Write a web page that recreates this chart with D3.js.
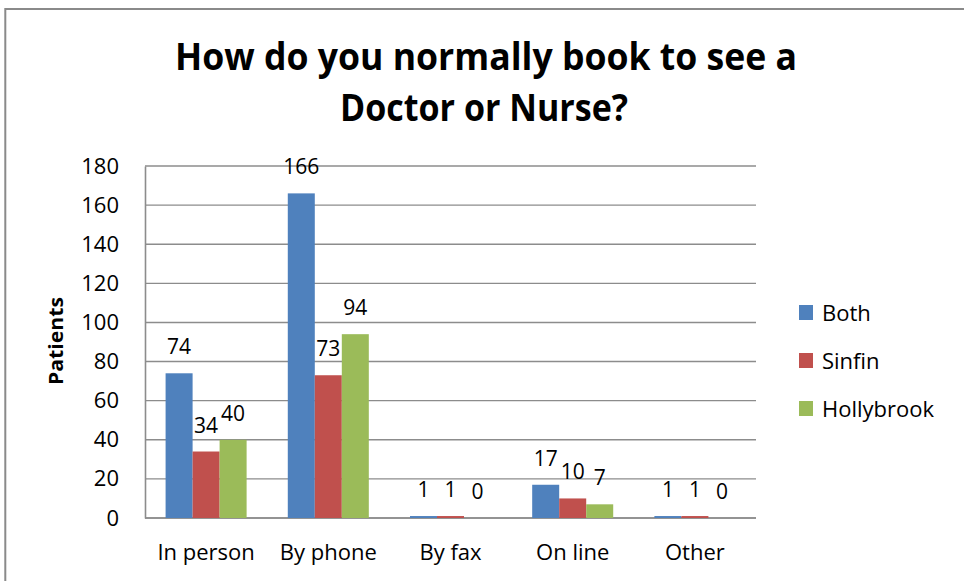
<!DOCTYPE html>
<meta charset="utf-8">
<style>
  body { margin: 0; background: #fff; }
  text { font-family: "Open Sans", sans-serif; fill: #000; }
</style>
<svg width="964" height="581"></svg>

<script src="https://cdn.jsdelivr.net/npm/d3@7"></script>
<script>
var categories = ["In person", "By phone", "By fax", "On line", "Other"]
var seriesNames = ["Both", "Sinfin", "Hollybrook"]
var both = [74, 166, 1, 17, 1]
var sinfin = [34, 73, 1, 10, 1]
var hollybrook = [40, 94, 0, 7, 0]
var yTicks = [0, 20, 40, 60, 80, 100, 120, 140, 160, 180]
var colors = ["#4F81BD", "#C0504D", "#9BBB59"]

var values = [both, sinfin, hollybrook]

var svg = d3.select("svg")

// chart frame
svg.append("rect")
  .attr("x", 5.3).attr("y", 9)
  .attr("width", 1000).attr("height", 1000)
  .attr("fill", "none")
  .attr("stroke", "#8a8a8a")
  .attr("stroke-width", 2)

var plotLeft = 145, plotRight = 756, plotTop = 166, plotBottom = 518

var x0 = d3.scaleBand()
  .domain(categories)
  .range([plotLeft, plotRight])
  .paddingInner(0.337)
  .paddingOuter(0.1685)

var x1 = d3.scaleBand()
  .domain(seriesNames)
  .range([0, x0.bandwidth()])

var y = d3.scaleLinear()
  .domain([0, 180])
  .range([plotBottom, plotTop])

// title
var title = svg.append("g").attr("font-weight", "bold").attr("font-size", 38)
title.append("text")
  .attr("x", 486).attr("y", 70)
  .attr("text-anchor", "middle")
  .attr("textLength", 622).attr("lengthAdjust", "spacingAndGlyphs")
  .text("How do you normally book to see a")
title.append("text")
  .attr("x", 484).attr("y", 121)
  .attr("text-anchor", "middle")
  .attr("textLength", 288).attr("lengthAdjust", "spacingAndGlyphs")
  .text("Doctor or Nurse?")

// gridlines
svg.append("g")
  .selectAll("line")
  .data(yTicks)
  .enter().append("line")
    .attr("x1", plotLeft).attr("x2", plotRight)
    .attr("y1", function (d) { return y(d) })
    .attr("y2", function (d) { return y(d) })
    .attr("stroke", "#8c8c8c")
    .attr("stroke-width", 1.4)

// y axis
var yAxis = svg.append("g")
  .attr("transform", "translate(" + plotLeft + ",0)")
  .call(d3.axisLeft(y).tickValues(yTicks).tickSize(0).tickPadding(26))
yAxis.select(".domain").attr("stroke", "#8c8c8c").attr("stroke-width", 1.6)
yAxis.selectAll("text")
  .attr("font-size", 22)
  .attr("font-family", "Open Sans")
  .attr("fill", "#000")

// x axis
var xAxis = svg.append("g")
  .attr("transform", "translate(0," + plotBottom + ")")
  .call(d3.axisBottom(x0).tickSize(0).tickPadding(0))
xAxis.select(".domain").remove()
xAxis.selectAll("text")
  .attr("font-size", 22)
  .attr("font-family", "Open Sans")
  .attr("fill", "#000")
  .attr("dy", null)
  .attr("y", 42)
svg.append("line")
  .attr("x1", plotLeft).attr("x2", plotRight)
  .attr("y1", plotBottom).attr("y2", plotBottom)
  .attr("stroke", "#8c8c8c")
  .attr("stroke-width", 1.6)

// bars
var barData = []
categories.forEach(function (c, i) {
  seriesNames.forEach(function (s, j) {
    barData.push({ cat: c, series: s, value: values[j][i], color: colors[j] })
  })
})

svg.append("g")
  .selectAll("rect")
  .data(barData)
  .enter().append("rect")
    .attr("x", function (d) { return x0(d.cat) + x1(d.series) })
    .attr("y", function (d) { return y(d.value) })
    .attr("width", x1.bandwidth())
    .attr("height", function (d) { return plotBottom - y(d.value) })
    .attr("fill", function (d) { return d.color })

// data labels
svg.append("g")
  .selectAll("text")
  .data(barData)
  .enter().append("text")
    .attr("x", function (d) { return x0(d.cat) + x1(d.series) + x1.bandwidth() / 2 })
    .attr("y", function (d) { return y(d.value) - 19 })
    .attr("text-anchor", "middle")
    .attr("font-size", 21)
    .text(function (d) { return d.value })

// y axis title
svg.append("text")
  .attr("transform", "translate(63,341) rotate(-90)")
  .attr("text-anchor", "middle")
  .attr("font-weight", "bold")
  .attr("font-size", 20)
  .attr("textLength", 88).attr("lengthAdjust", "spacingAndGlyphs")
  .text("Patients")

// legend
var legend = svg.append("g")
  .selectAll("g")
  .data(seriesNames)
  .enter().append("g")
    .attr("transform", function (d, i) { return "translate(799," + (305 + i * 48) + ")" })
legend.append("rect")
  .attr("width", 14).attr("height", 15)
  .attr("fill", function (d, i) { return colors[i] })
legend.append("text")
  .attr("x", 23).attr("y", 16)
  .attr("font-size", 22)
  .text(function (d) { return d })
</script>
